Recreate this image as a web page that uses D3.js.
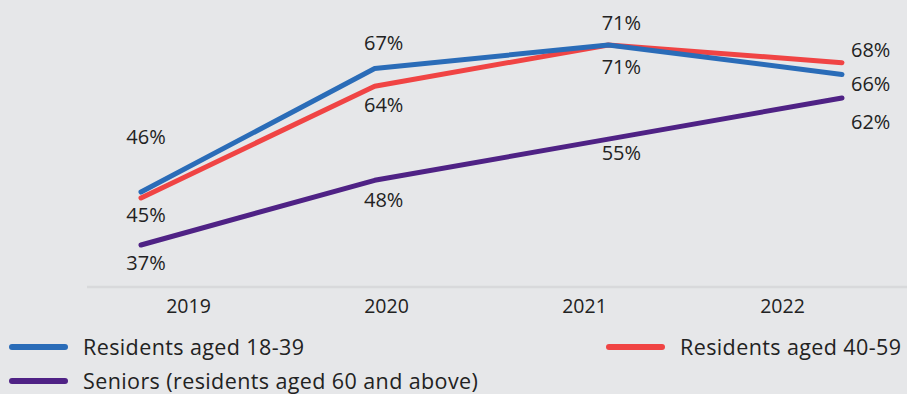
<!DOCTYPE html>
<html lang="en">
<head>
	<meta charset="utf-8" />
	<title>Residents by age group</title>
	<script src="https://d3js.org/d3.v7.min.js"></script>
	<style>
		body { margin: 0; background: #e6e7e9; }
		svg { display: block; font-family: "Open Sans", sans-serif; }
	</style>
</head>
<body>
	<div id="my_dataviz"></div>
	<script>
		// data
		var years = ["2019", "2020", "2021", "2022"];
		var young = [46, 67, 71, 66];   // residents aged 18-39
		var middle = [45, 64, 71, 68];  // residents aged 40-59
		var seniors = [37, 48, 55, 62]; // residents aged 60 and above

		var seriesNames = ["Residents aged 18-39", "Residents aged 40-59", "Seniors (residents aged 60 and above)"];

		// label offsets (pixels) from each point
		var youngDy = [-48, -19, -15, 17];
		var middleDy = [24, 26, 29, -6];
		var seniorsDy = [25, 27, 21, 31];
		var labelDx = [5, 9, 13, 9];

		var width = 907, height = 394;

		var svg = d3.select("#my_dataviz")
			.append("svg")
			.attr("width", width)
			.attr("height", height);

		svg.append("rect")
			.attr("width", width)
			.attr("height", height)
			.attr("fill", "#e6e7e9");

		// scales
		var x = d3.scalePoint()
			.domain(years)
			.range([141, 842]);

		var xAxisScale = d3.scalePoint()
			.domain(years)
			.range([188, 782]);

		var y = d3.scaleLinear()
			.domain([37, 71])
			.range([245, 45]);

		// x axis
		var axis = svg.append("g")
			.attr("transform", "translate(0,287)")
			.call(d3.axisBottom(xAxisScale).tickSize(0));
		axis.select(".domain").remove();
		axis.selectAll("text")
			.attr("dy", null)
			.attr("y", 26)
			.style("font-family", "'Open Sans', sans-serif")
			.style("font-size", "19.5px")
			.attr("fill", "#222");

		svg.append("line")
			.attr("x1", 87)
			.attr("x2", width)
			.attr("y1", 287)
			.attr("y2", 287)
			.attr("stroke", "#d8d9db")
			.attr("stroke-width", 2.5);

		var series = [
			{ name: seriesNames[1], values: middle, dy: middleDy, color: "#f04444" },
			{ name: seriesNames[0], values: young, dy: youngDy, color: "#2a6cb8" },
			{ name: seriesNames[2], values: seniors, dy: seniorsDy, color: "#4f2285" }
		];

		var line = d3.line()
			.x(function(d, i) { return x(years[i]); })
			.y(function(d) { return y(d); });

		series.forEach(function(s) {
			svg.append("path")
				.datum(s.values)
				.attr("d", line)
				.attr("fill", "none")
				.attr("stroke", s.color)
				.attr("stroke-width", 5)
				.attr("stroke-linecap", "round")
				.attr("stroke-linejoin", "round");

			svg.selectAll(null)
				.data(s.values)
				.enter()
				.append("text")
				.attr("x", function(d, i) { return x(years[i]) + labelDx[i]; })
				.attr("y", function(d, i) { return y(d) + s.dy[i]; })
				.attr("text-anchor", function(d, i) { return i === years.length - 1 ? "start" : "middle"; })
				.style("font-size", "20px")
				.attr("fill", "#222")
				.text(function(d) { return d + "%"; });
		});

		// legend
		var legend = [
			{ name: seriesNames[0], color: "#2a6cb8", lx: 10, ly: 347 },
			{ name: seriesNames[1], color: "#f04444", lx: 607, ly: 347 },
			{ name: seriesNames[2], color: "#4f2285", lx: 10, ly: 381 }
		];

		var lg = svg.selectAll(".legend")
			.data(legend)
			.enter()
			.append("g")
			.attr("class", "legend")
			.attr("transform", function(d) { return "translate(" + d.lx + "," + d.ly + ")"; });

		lg.append("line")
			.attr("x1", 2)
			.attr("x2", 55)
			.attr("stroke", function(d) { return d.color; })
			.attr("stroke-width", 6)
			.attr("stroke-linecap", "round");

		lg.append("text")
			.attr("x", 73)
			.attr("y", 8)
			.style("font-size", "21.5px")
			.style("letter-spacing", "0.4px")
			.attr("fill", "#222")
			.text(function(d) { return d.name; });
	</script>
</body>
</html>
